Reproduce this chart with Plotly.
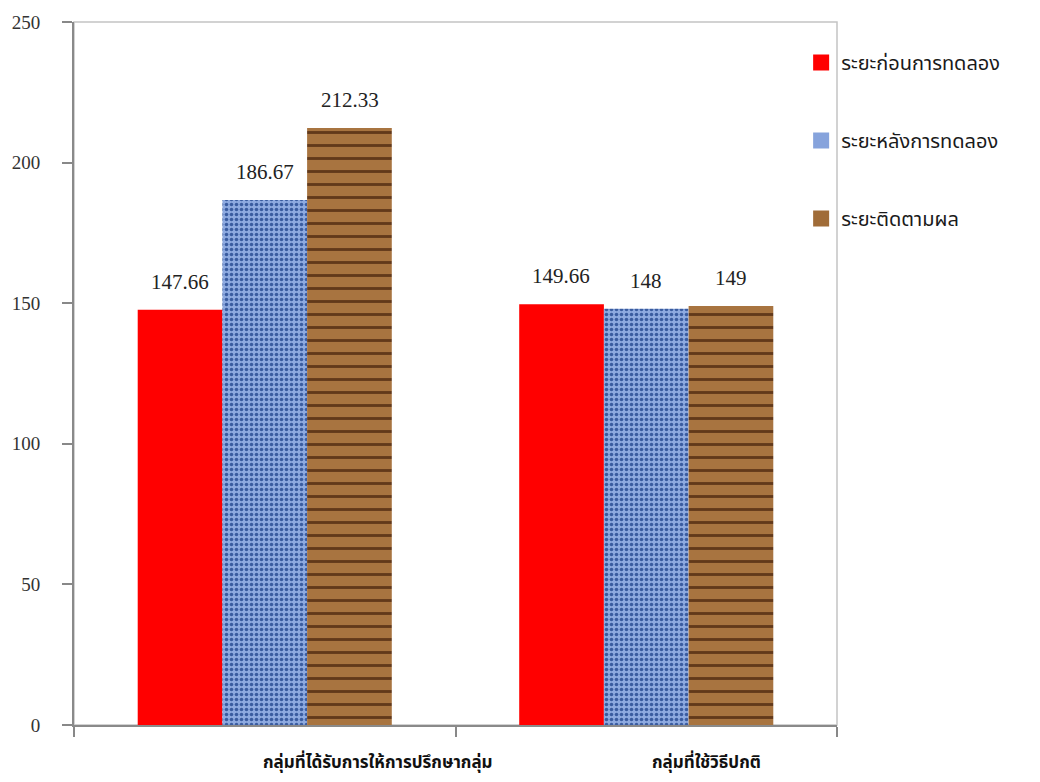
import plotly.graph_objects as go

categories = ["กลุ่มที่ได้รับการให้การปรึกษากลุ่ม", "กลุ่มที่ใช้วิธีปกติ"]
series_names = ["ระยะก่อนการทดลอง", "ระยะหลังการทดลอง", "ระยะติดตามผล"]
before_vals = [147.66, 149.66]
after_vals = [186.67, 148]
follow_vals = [212.33, 149]
label_texts = [["147.66", "149.66"], ["186.67", "148"], ["212.33", "149"]]
y_ticks = [0, 50, 100, 150, 200, 250]

thai_font = "Noto Sans Thai, Tahoma, DejaVu Sans, sans-serif"
serif_font = "Liberation Serif, Times New Roman, serif"

base_colors = ["#ff0000", "#86a3dc", "#a06c38"]
patterns = [
    None,
    dict(shape=".", fgcolor="#3a5ca0", bgcolor="#8eaae0", size=5, solidity=0.4, fillmode="replace"),
    dict(shape="-", fgcolor="#62391a", bgcolor="#a87440", size=13, solidity=0.22, fillmode="replace"),
]

fig = go.Figure()
all_vals = [before_vals, after_vals, follow_vals]
for name, vals, col, pat in zip(series_names, all_vals, base_colors, patterns):
    marker = dict(color=col, line=dict(width=0))
    if pat is not None:
        marker["pattern"] = pat
    fig.add_trace(go.Bar(
        x=categories, y=vals, name=name, legendgroup=name, showlegend=False,
        marker=marker,
    ))
# legend entries (square swatches)
for name, col in zip(series_names, base_colors):
    fig.add_trace(go.Scatter(
        x=[None], y=[None], mode="markers", name=name, legendgroup=name,
        marker=dict(symbol="square", size=20, color=col),
    ))

bar_px = 85
annotations = []
for si, (vals, texts) in enumerate(zip(all_vals, label_texts)):
    for ci, (v, t) in enumerate(zip(vals, texts)):
        annotations.append(dict(
            x=categories[ci], y=v, xref="x", yref="y", text=t, showarrow=False,
            xshift=(si - 1) * bar_px, yshift=28, yanchor="middle",
            font=dict(family=serif_font, size=21, color="#222222"),
        ))
for ci, c in enumerate(categories):
    annotations.append(dict(
        x=c, y=0, xref="x", yref="y", text="<b>" + c + "</b>", showarrow=False,
        xanchor="left", yanchor="middle", yshift=-38, xshift=-4 + ci * 8,
        font=dict(family=thai_font, size=17, color="#111111"),
    ))

fig.update_layout(
    width=1040, height=782,
    margin=dict(l=70, r=203, t=17, b=57),
    paper_bgcolor="white", plot_bgcolor="white",
    barmode="group", bargap=0.334, bargroupgap=0,
    showlegend=True,
    legend=dict(
        x=0.953, y=0.97, xanchor="left", yanchor="top",
        font=dict(family=thai_font, size=20, color="#1a1a1a"),
        tracegroupgap=49, traceorder="grouped",
        bgcolor="rgba(0,0,0,0)", itemsizing="trace",
    ),
    annotations=annotations,
    shapes=[dict(type="rect", xref="paper", yref="paper", x0=0, x1=1, y0=0, y1=1,
                 line=dict(color="#c4c4c4", width=1.5), layer="below")],
    xaxis=dict(
        showticklabels=False, ticks="outside", tickson="boundaries", ticklen=10,
        tickcolor="#888888", tickwidth=1.5,
        showline=True, linecolor="#8a8a8a", linewidth=1.5,
        showgrid=False, zeroline=False,
    ),
    yaxis=dict(
        range=[0, 250], tickvals=y_ticks, ticks="outside", ticklen=10,
        tickcolor="#888888", tickwidth=1.5,
        showline=True, linecolor="#8a8a8a", linewidth=2,
        showgrid=False, zeroline=False, ticklabelstandoff=18,
        tickfont=dict(family=serif_font, size=19, color="#333333"),
    ),
)

fig.write_html("out.html")
